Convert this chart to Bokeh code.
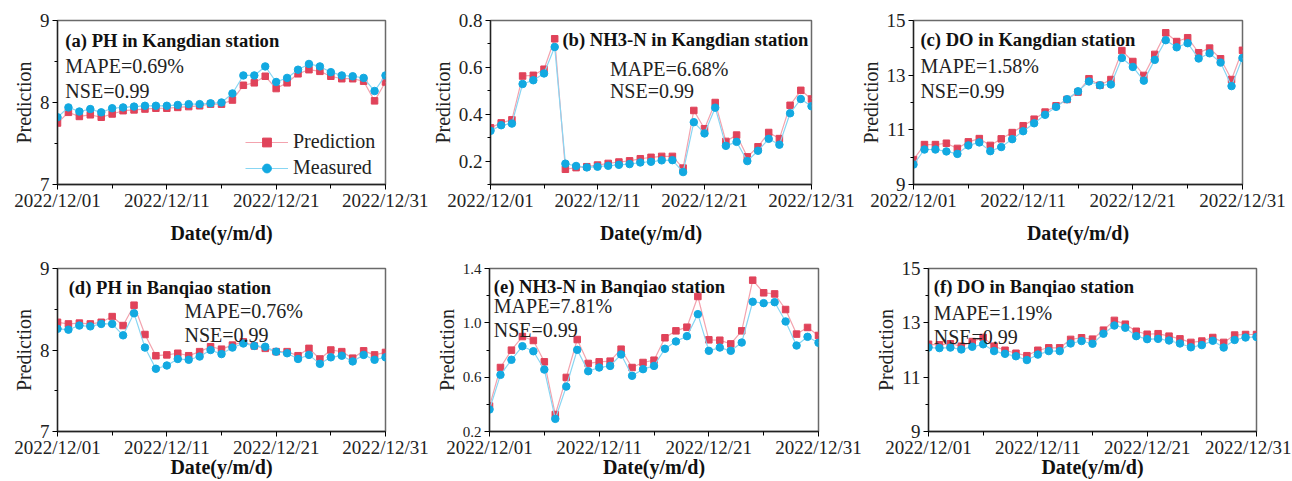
from bokeh.plotting import figure
from bokeh.models import FixedTicker, Label, Legend, LegendItem, Range1d, PrintfTickFormatter
from bokeh.layouts import row, column
from bokeh.embed import file_html
from bokeh.resources import INLINE

# ---------------- data ----------------
days = list(range(1, 32))
date_ticks = [1, 11, 21, 31]
date_labels = ["2022/12/01", "2022/12/11", "2022/12/21", "2022/12/31"]
date_minor = [6, 16, 26]

titles = ["(a) PH in Kangdian station", "(b) NH3-N in Kangdian station", "(c) DO in Kangdian station",
          "(d) PH in Banqiao station", "(e) NH3-N in Banqiao station", "(f) DO in Banqiao station"]
mape_text = ["MAPE=0.69%", "MAPE=6.68%", "MAPE=1.58%", "MAPE=0.76%", "MAPE=7.81%", "MAPE=1.19%"]
nse_text = ["NSE=0.99", "NSE=0.99", "NSE=0.99", "NSE=0.99", "NSE=0.99", "NSE=0.99"]
series_names = ["Prediction", "Measured"]

pred_a = [7.75, 7.88, 7.83, 7.85, 7.82, 7.86, 7.90, 7.91, 7.92, 7.93, 7.93, 7.94, 7.95, 7.96, 7.98, 7.98,
          8.03, 8.21, 8.24, 8.32, 8.17, 8.24, 8.35, 8.40, 8.38, 8.32, 8.29, 8.29, 8.26, 8.02, 8.25]
meas_a = [7.82, 7.94, 7.89, 7.92, 7.88, 7.93, 7.94, 7.95, 7.96, 7.96, 7.96, 7.97, 7.98, 7.98, 7.99, 8.00,
          8.11, 8.33, 8.33, 8.44, 8.25, 8.30, 8.40, 8.47, 8.44, 8.37, 8.33, 8.32, 8.30, 8.14, 8.33]

pred_b = [0.342, 0.363, 0.376, 0.563, 0.566, 0.592, 0.722, 0.165, 0.172, 0.176, 0.183, 0.190, 0.196, 0.201,
          0.210, 0.216, 0.220, 0.220, 0.170, 0.416, 0.338, 0.450, 0.284, 0.311, 0.218, 0.261, 0.322, 0.296,
          0.438, 0.502, 0.465]
meas_b = [0.329, 0.353, 0.360, 0.529, 0.545, 0.574, 0.687, 0.189, 0.179, 0.173, 0.176, 0.180, 0.184, 0.187,
          0.194, 0.197, 0.203, 0.204, 0.153, 0.366, 0.318, 0.428, 0.265, 0.282, 0.200, 0.244, 0.295, 0.270,
          0.404, 0.465, 0.434]

pred_c = [9.91, 10.46, 10.46, 10.51, 10.32, 10.56, 10.68, 10.43, 10.67, 10.90, 11.15, 11.39, 11.65, 11.88,
          12.11, 12.38, 12.87, 12.63, 12.84, 13.90, 13.50, 12.99, 13.76, 14.55, 14.23, 14.37, 13.82, 13.99,
          13.60, 12.84, 13.91]
meas_c = [9.73, 10.28, 10.28, 10.21, 10.12, 10.43, 10.54, 10.22, 10.37, 10.66, 10.95, 11.24, 11.55, 11.84,
          12.12, 12.41, 12.77, 12.63, 12.66, 13.63, 13.30, 12.80, 13.56, 14.28, 14.02, 14.17, 13.61, 13.80,
          13.46, 12.60, 13.63]

pred_d = [8.34, 8.32, 8.33, 8.32, 8.34, 8.41, 8.30, 8.55, 8.19, 7.93, 7.94, 7.96, 7.93, 7.98, 8.04, 8.01,
          8.06, 8.10, 8.05, 8.02, 7.98, 7.98, 7.93, 8.02, 7.89, 8.00, 7.98, 7.90, 7.99, 7.94, 7.97]
meas_d = [8.26, 8.25, 8.30, 8.29, 8.32, 8.32, 8.18, 8.45, 8.03, 7.77, 7.81, 7.89, 7.88, 7.92, 8.00, 7.95,
          8.03, 8.08, 8.05, 8.04, 7.98, 7.96, 7.89, 7.94, 7.83, 7.91, 7.93, 7.86, 7.94, 7.88, 7.91]

pred_e = [0.387, 0.671, 0.799, 0.899, 0.870, 0.713, 0.325, 0.598, 0.877, 0.701, 0.713, 0.718, 0.806, 0.671,
          0.708, 0.725, 0.890, 0.941, 0.968, 1.194, 0.875, 0.872, 0.845, 0.941, 1.314, 1.221, 1.213, 1.098,
          0.917, 0.966, 0.907]
meas_e = [0.362, 0.617, 0.728, 0.828, 0.791, 0.656, 0.293, 0.531, 0.801, 0.644, 0.671, 0.683, 0.767, 0.610,
          0.659, 0.683, 0.809, 0.863, 0.902, 1.064, 0.794, 0.818, 0.794, 0.855, 1.155, 1.145, 1.152, 1.010,
          0.833, 0.897, 0.853]

pred_f = [12.21, 12.19, 12.23, 12.14, 12.31, 12.46, 12.14, 11.99, 11.88, 11.79, 11.99, 12.08, 12.08, 12.39,
          12.45, 12.40, 12.73, 13.09, 12.95, 12.69, 12.58, 12.60, 12.51, 12.41, 12.28, 12.33, 12.46, 12.28,
          12.55, 12.57, 12.57]
meas_f = [12.09, 12.07, 12.09, 12.02, 12.12, 12.21, 11.96, 11.86, 11.77, 11.63, 11.83, 11.96, 11.96, 12.24,
          12.33, 12.23, 12.60, 12.90, 12.82, 12.51, 12.40, 12.41, 12.35, 12.24, 12.10, 12.18, 12.34, 12.09,
          12.37, 12.46, 12.48]

y_ticks_ph = [7, 8, 9]
y_minor_ph = [7.5, 8.5]
y_ticks_nb = [0.2, 0.4, 0.6, 0.8]
y_minor_nb = [0.1, 0.3, 0.5, 0.7]
y_ticks_do = [9, 11, 13, 15]
y_minor_do = [10, 12, 14]
y_ticks_ne = [0.2, 0.6, 1.0, 1.4]
y_minor_ne = [0.4, 0.8, 1.2]

# ---------------- style ----------------
FONT = "Liberation Serif"
RED = "#E0435A"
RED_LINE = "#F3A3AE"
BLUE = "#12A9E1"
BLUE_LINE = "#88D6F3"


def make_panel(pred, meas, title, mape, nse, yr, yt, ym, yfmt, ytick_size,
               borders, frame, text_pos, xlabel_standoff, legend=False):
    lb, rb, tb, bb = borders
    fw, fh = frame
    p = figure(width=lb + fw + rb, height=tb + fh + bb, output_backend="svg",
               toolbar_location=None, x_range=Range1d(1, 31), y_range=Range1d(*yr),
               min_border_left=lb, min_border_right=rb, min_border_top=tb, min_border_bottom=bb)
    p.background_fill_color = "white"
    p.border_fill_color = "white"
    p.outline_line_color = "#6a6a6a"
    p.outline_line_width = 1.5
    p.xgrid.visible = False
    p.ygrid.visible = False

    xa = p.xaxis[0]
    xa.ticker = FixedTicker(ticks=date_ticks, minor_ticks=date_minor)
    xa.major_label_overrides = {t: l for t, l in zip(date_ticks, date_labels)}
    xa.major_label_text_font = FONT
    xa.major_label_text_font_size = "19px"
    xa.major_label_text_color = "#222222"
    xa.major_label_standoff = 0
    xa.major_tick_out = 5
    xa.major_tick_in = 0
    xa.minor_tick_out = 4
    xa.minor_tick_in = 0
    xa.axis_label = "Date(y/m/d)"
    xa.axis_label_text_font = FONT
    xa.axis_label_text_font_size = "20px"
    xa.axis_label_text_font_style = "bold"
    xa.axis_label_text_color = "#111111"
    xa.axis_label_standoff = xlabel_standoff
    xa.axis_line_color = "#222222"
    xa.axis_line_width = 1.3

    ya = p.yaxis[0]
    ya.ticker = FixedTicker(ticks=yt, minor_ticks=ym)
    ya.formatter = PrintfTickFormatter(format=yfmt)
    ya.major_label_text_font = FONT
    ya.major_label_text_font_size = ytick_size
    ya.major_label_text_color = "#222222"
    ya.major_label_standoff = 3
    ya.major_tick_out = 5
    ya.major_tick_in = 0
    ya.minor_tick_out = 3
    ya.minor_tick_in = 0
    ya.axis_label = "Prediction"
    ya.axis_label_text_font = FONT
    ya.axis_label_text_font_size = "20px"
    ya.axis_label_text_font_style = "normal"
    ya.axis_label_text_color = "#222222"
    ya.axis_label_standoff = 2
    ya.axis_line_color = "#222222"
    ya.axis_line_width = 1.3

    l1 = p.line(days, pred, line_color=RED_LINE, line_width=1.2)
    s1 = p.scatter(days, pred, marker="square", size=6.5, fill_color=RED, line_color=RED)
    l2 = p.line(days, meas, line_color=BLUE_LINE, line_width=1.2)
    s2 = p.scatter(days, meas, marker="circle", size=7.5, fill_color=BLUE, line_color=BLUE)

    (tx, tyt), (mx, my), (ny,) = text_pos
    x0, x1 = 1, 31
    y0, y1 = yr

    def dx(f):
        return x0 + f * (x1 - x0)

    def dy(f):
        return y0 + f * (y1 - y0)

    p.add_layout(Label(x=dx(tx), y=dy(tyt), text=title, text_font=FONT, text_font_size="18.6px",
                       text_font_style="bold", text_color="#111111", text_baseline="alphabetic"))
    p.add_layout(Label(x=dx(mx), y=dy(my), text=mape, text_font=FONT, text_font_size="20px",
                       text_color="#222222", text_baseline="alphabetic"))
    p.add_layout(Label(x=dx(mx), y=dy(ny), text=nse, text_font=FONT, text_font_size="20px",
                       text_color="#222222", text_baseline="alphabetic"))

    if legend:
        lg = Legend(items=[LegendItem(label=series_names[0], renderers=[l1, s1]),
                           LegendItem(label=series_names[1], renderers=[l2, s2])],
                    location=(188, 5), padding=0, margin=0, spacing=3,
                    glyph_width=43, glyph_height=22, label_height=22, label_standoff=5,
                    label_text_font=FONT, label_text_font_size="20px", label_text_color="#222222",
                    border_line_alpha=0, background_fill_alpha=0)
        p.add_layout(lg)
    return p


# borders: (left, right, top, bottom); frame: (w, h)
pa = make_panel(pred_a, meas_a, titles[0], mape_text[0], nse_text[0], (7, 9), y_ticks_ph, y_minor_ph, "%d", "19px",
                (57, 43, 20, 64), (328, 164), ((0.024, 0.878), (0.024, 0.72), (0.573,)), 8, legend=True)
pb = make_panel(pred_b, meas_b, titles[1], mape_text[1], nse_text[1], (0.1, 0.8), y_ticks_nb, y_minor_nb, "%.1f", "19px",
                (55, 45, 20, 64), (328, 164), ((0.224, 0.884), (0.372, 0.707), (0.569,)), 8)
pc = make_panel(pred_c, meas_c, titles[2], mape_text[2], nse_text[2], (9, 15), y_ticks_do, y_minor_do, "%d", "19px",
                (57, 49, 20, 64), (329, 164), ((0.021, 0.884), (0.021, 0.721), (0.573,)), 8)
pd_ = make_panel(pred_d, meas_d, titles[3], mape_text[3], nse_text[3], (7, 9), y_ticks_ph, y_minor_ph, "%d", "19px",
                 (57, 46, 20, 48), (328, 164), ((0.034, 0.886), (0.387, 0.74), (0.591,)), -5)
pe = make_panel(pred_e, meas_e, titles[4], mape_text[4], nse_text[4], (0.2, 1.4), y_ticks_ne, y_minor_ne, "%.1f", "15px",
                (58, 50, 20, 48), (329, 164), ((0.013, 0.892), (0.013, 0.77), (0.622,)), -5)
pf = make_panel(pred_f, meas_f, titles[5], mape_text[5], nse_text[5], (9, 15), y_ticks_do, y_minor_do, "%d", "19px",
                (60, 35, 20, 48), (328, 164), ((0.016, 0.892), (0.016, 0.727), (0.581,)), -5)

layout = column(row(pa, pb, pc), row(pd_, pe, pf))

open("out.html", "w").write(file_html(layout, INLINE))
